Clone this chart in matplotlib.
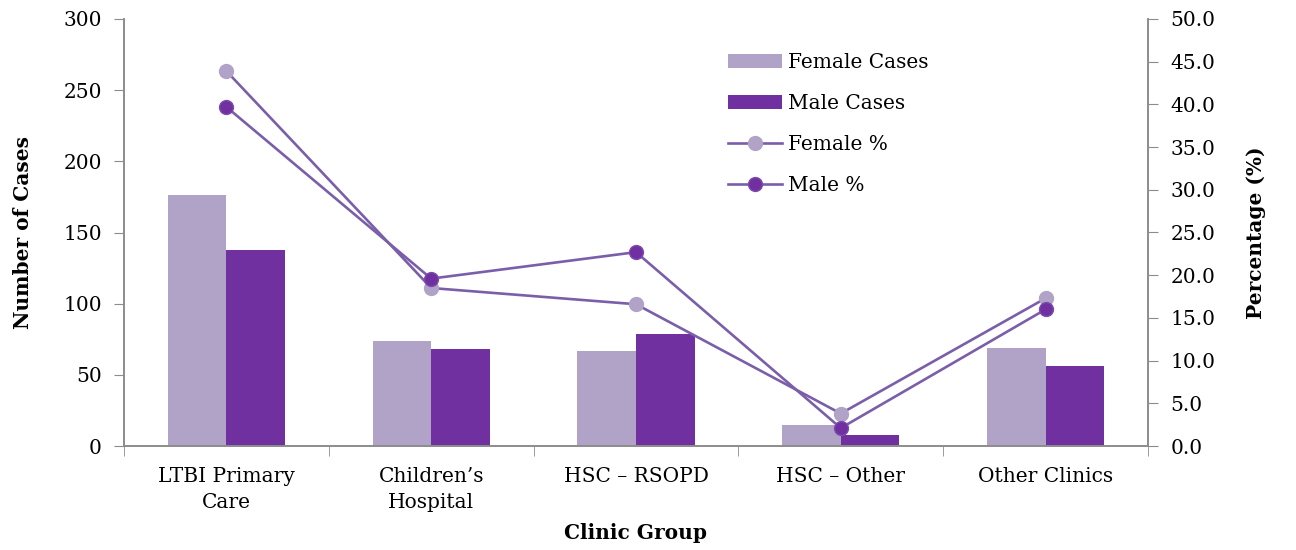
import matplotlib.pyplot as plt
import numpy as np

plt.rcParams["font.family"] = ["DejaVu Serif"]

# 数据
clinics = ["LTBI Primary\nCare", "Children\u2019s\nHospital", "HSC \u2013 RSOPD",
           "HSC \u2013 Other", "Other Clinics"]
female_cases = [176, 74, 67, 15, 69]
male_cases = [138, 68, 79, 8, 56]
female_pct = [43.9, 18.5, 16.6, 3.8, 17.3]
male_pct = [39.7, 19.6, 22.7, 2.1, 16.0]

light = "#B1A2C8"
dark = "#7030A0"
line_col = "#7B5EA9"
axis_col = "#8C8C8C"
fs = 14.5

fig = plt.figure(figsize=(12.96, 5.5), dpi=100)
ax = fig.add_axes([124 / 1296, 104 / 550, 1024 / 1296, 427 / 550])
ax2 = ax.twinx()

x = np.arange(len(clinics))
w = 0.286
b1 = ax.bar(x - w / 2, female_cases, w, color=light, label="Female Cases")
b2 = ax.bar(x + w / 2, male_cases, w, color=dark, label="Male Cases")

l1, = ax2.plot(x, female_pct, color=line_col, lw=1.9, marker="o", ms=10,
               mfc=light, mec=light, label="Female %")
l2, = ax2.plot(x, male_pct, color=line_col, lw=1.9, marker="o", ms=10,
               mfc=dark, mec="#7D4AAE", label="Male %")

ax.set_xlim(-0.5, len(clinics) - 0.5)
ax.set_ylim(0, 300)
ax.set_yticks(range(0, 301, 50))
ax2.set_ylim(0, 50)
ax2.set_yticks(np.arange(0, 50.1, 5))
ax2.set_yticklabels([f"{v:.1f}" for v in np.arange(0, 50.1, 5)])

# 类别刻度放在中间, 刻度线放在类别之间
ax.set_xticks(x)
ax.set_xticklabels(clinics, fontsize=fs, linespacing=1.5)
ax.set_xticks(np.arange(-0.5, len(clinics), 1), minor=True)
ax.tick_params(axis="x", which="major", length=0, pad=15)
ax.tick_params(axis="x", which="minor", length=7, direction="out", color=axis_col)
ax.tick_params(axis="y", labelsize=fs, length=7, color=axis_col, pad=9)
ax2.tick_params(axis="y", labelsize=fs, length=7, color=axis_col, pad=9)

for a in (ax, ax2):
    a.spines["top"].set_visible(False)
    for s in ("left", "right", "bottom"):
        a.spines[s].set_color(axis_col)
        a.spines[s].set_linewidth(1.2)

ax.set_ylabel("Number of Cases", fontsize=fs, fontweight="bold", labelpad=22)
ax2.set_ylabel("Percentage (%)", fontsize=fs, fontweight="bold", labelpad=22)
ax.set_xlabel("Clinic Group", fontsize=fs, fontweight="bold", labelpad=8)

ax2.legend([b1, b2, l1, l2], ["Female Cases", "Male Cases", "Female %", "Male %"],
           loc="upper left", bbox_to_anchor=(0.582, 0.94), frameon=False,
           fontsize=fs, labelspacing=1.1, handlelength=2.7, handletextpad=0.3,
           borderaxespad=0)

plt.savefig("out.png", dpi=100)
